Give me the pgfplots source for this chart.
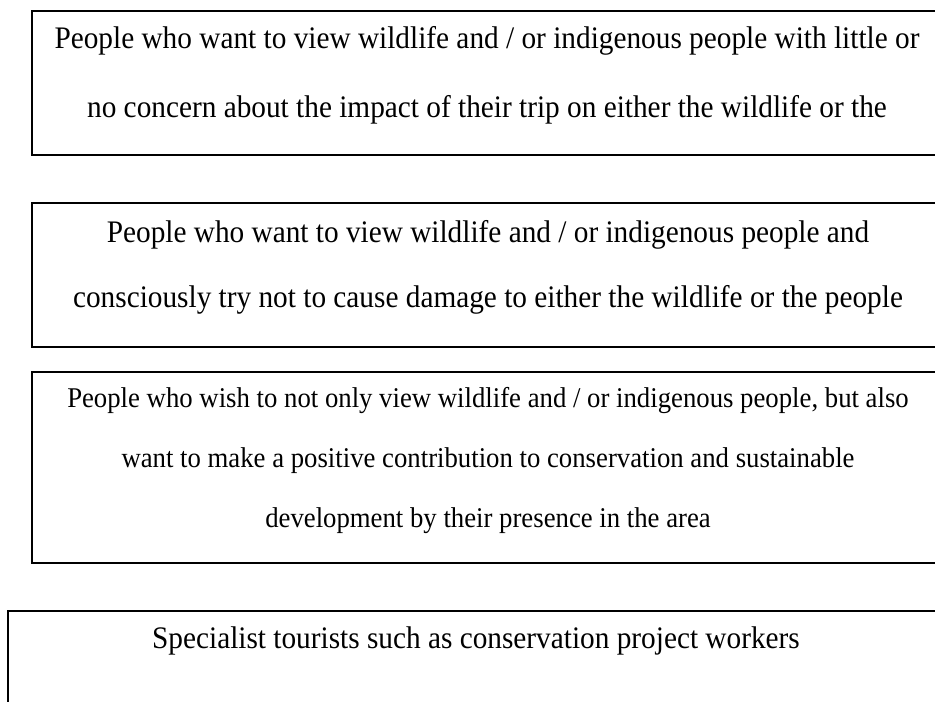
\documentclass[border=0pt]{standalone}
\usepackage{fontspec}
\setmainfont{Liberation Serif}
\usepackage{graphicx}
\usepackage{pgfplots}
\pgfplotsset{compat=1.18}
\newcommand{\tl}[1]{\scalebox{0.935}[1]{#1}}
\begin{document}
\begin{tikzpicture}[x=0.75pt,y=0.75pt]
\path[use as bounding box] (0,0) rectangle (935,701);
\begin{axis}[at={(0,0)},anchor=south west, scale only axis,
  width=701.25pt, height=525.75pt,
  xmin=0,xmax=935,ymin=0,ymax=701, y dir=reverse, hide axis, clip=true]
% box outlines (left, top, bottom edges; right edge beyond the page)
\addplot[black, line width=1.3pt] coordinates {(1000,11) (32,11) (32,155) (1000,155)};
\addplot[black, line width=1.3pt] coordinates {(1000,203) (32,203) (32,347) (1000,347)};
\addplot[black, line width=1.3pt] coordinates {(1000,372) (32,372) (32,563) (1000,563)};
\addplot[black, line width=1.3pt] coordinates {(1000,611) (8,611) (8,720)};
\tikzset{bt/.style={anchor=base, inner sep=0pt, font=\fontsize{23.5}{26}\selectfont},
         st/.style={anchor=base, inner sep=0pt, font=\fontsize{21.45}{26}\selectfont}}
\node[bt] at (axis cs:487,48) {\tl{People who want to view wildlife and / or indigenous people with little or}};
\node[bt] at (axis cs:487,117) {\tl{no concern about the impact of their trip on either the wildlife or the}};
\node[bt] at (axis cs:488,242) {\tl{People who want to view wildlife and / or indigenous people and}};
\node[bt] at (axis cs:488,307) {\tl{consciously try not to cause damage to either the wildlife or the people}};
\node[st] at (axis cs:488,407) {\tl{People who wish to not only view wildlife and / or indigenous people, but also}};
\node[st] at (axis cs:488,467) {\tl{want to make a positive contribution to conservation and sustainable}};
\node[st] at (axis cs:488,527) {\tl{development by their presence in the area}};
\node[bt] at (axis cs:476,648) {\tl{Specialist tourists such as conservation project workers}};
\end{axis}
\end{tikzpicture}
\end{document}
